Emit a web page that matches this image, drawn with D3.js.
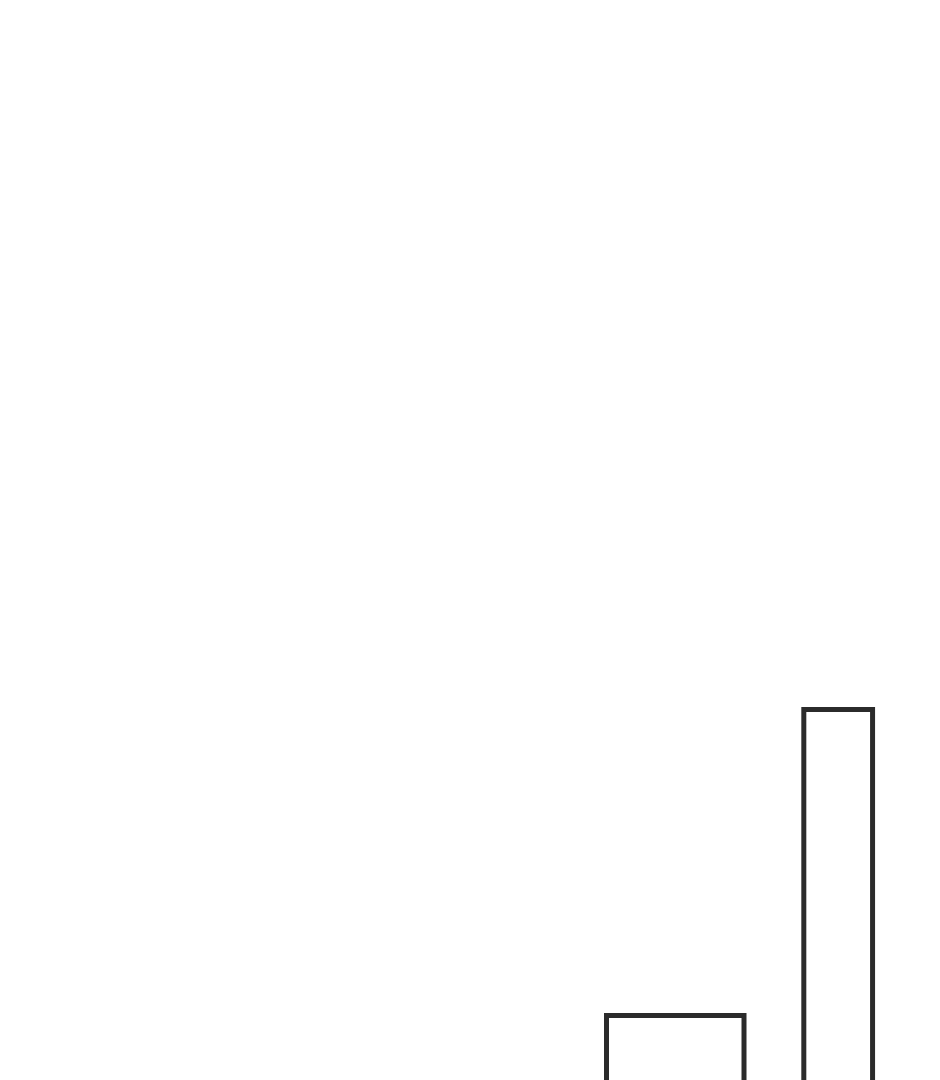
<!DOCTYPE html>
<html>
<head>
<meta charset="utf-8">
<script src="https://cdn.jsdelivr.net/npm/d3@7"></script>
<style>
  html, body { margin: 0; padding: 0; background: #fff; overflow: hidden; }
</style>
</head>
<body>
<div id="chart"></div>
<script>
// bins (start, end) and heights of the two visible bars
var binStart = [6, 8.87];
var binEnd = [8, 9.87];
var values = [1, 4];

var width = 940,
    height = 1080;

var svg = d3.select("#chart")
    .append("svg")
    .attr("width", width)
    .attr("height", height);

// the chart's baseline sits below the visible window
var x = d3.scaleLinear()
    .domain([0, 10])
    .range([194, 881.5]);

var y = d3.scaleLinear()
    .domain([0, 4])
    .range([1117.5, 709.5]);

var data = values.map(function (v, i) {
    return { x0: binStart[i], x1: binEnd[i], value: v };
});

svg.selectAll("rect.bar")
    .data(data)
    .enter()
    .append("rect")
    .attr("class", "bar")
    .attr("x", function (d) { return x(d.x0); })
    .attr("width", function (d) { return x(d.x1) - x(d.x0); })
    .attr("y", function (d) { return y(d.value); })
    .attr("height", function (d) { return y(0) - y(d.value); })
    .attr("fill", "#fff")
    .attr("stroke", "#2b2b2b")
    .attr("stroke-width", 5);
</script>
</body>
</html>
